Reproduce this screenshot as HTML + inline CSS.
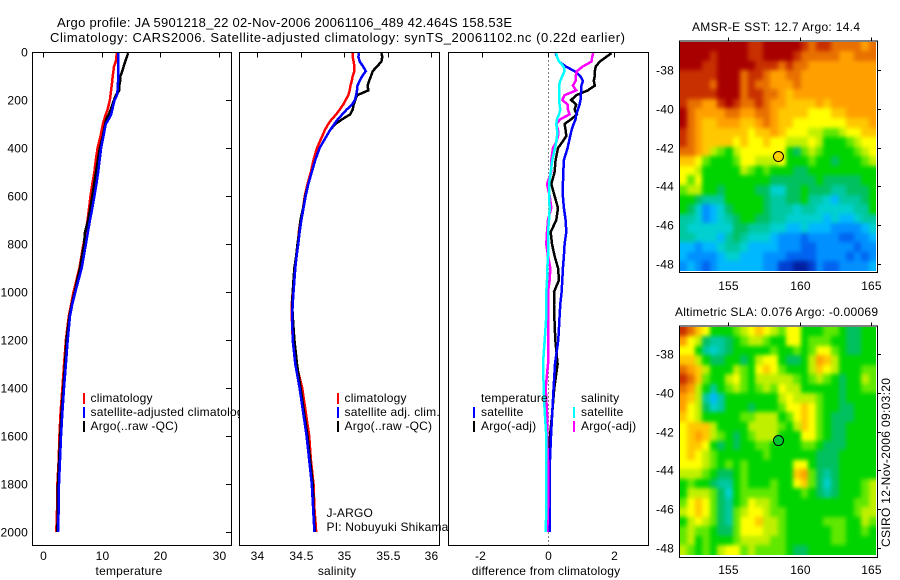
<!DOCTYPE html>
<html lang="en">
<head>
<meta charset="utf-8">
<title>Argo profile 5901218_22</title>
<style>
html,body{margin:0;padding:0;background:#fff;width:900px;height:580px;overflow:hidden}
svg{display:block}
text{font-family:"Liberation Sans",sans-serif;font-size:12px;fill:#000;letter-spacing:0.2px}
.crisp{shape-rendering:crispEdges}
</style>
</head>
<body>
<svg id="fig" xmlns="http://www.w3.org/2000/svg" width="900" height="580" viewBox="0 0 900 580">
<defs>
<filter id="map-smooth" filterUnits="userSpaceOnUse" x="650" y="0" width="250" height="580" color-interpolation-filters="sRGB">
<feGaussianBlur stdDeviation="2.2"/>
</filter>
<clipPath id="sst-map-clip"><rect x="680" y="42" width="196" height="229"/></clipPath>
<clipPath id="sla-map-clip"><rect x="680" y="327" width="196" height="228"/></clipPath>
</defs>
<rect x="0" y="0" width="900" height="580" fill="#fff"/>
<text x="57" y="27" textLength="455" style="font-size:13px;letter-spacing:0">Argo profile: JA 5901218_22 02-Nov-2006 20061106_489 42.464S 158.53E</text>
<text x="50" y="42" textLength="575" style="font-size:13px;letter-spacing:0">Climatology: CARS2006. Satellite-adjusted climatology: synTS_20061102.nc (0.22d earlier)</text>
<g id="panels"></g>
<text x="692" y="31" textLength="168" style="letter-spacing:0">AMSR-E SST: 12.7 Argo: 14.4</text>
<text x="675" y="316" textLength="203" style="letter-spacing:0">Altimetric SLA: 0.076 Argo: -0.00069</text>
<g id="maps"></g>
<text transform="translate(890,547) rotate(-90)" textLength="169" style="letter-spacing:0">CSIRO 12-Nov-2006 09:03:20</text>
</svg>
<script>
const depthLevels=[5,20,40,60,80,100,120,140,160,180,200,220,240,260,280,300,325,350,375,400,450,500,550,600,650,700,750,800,850,900,950,1000,1050,1100,1200,1300,1400,1500,1600,1700,1800,1900,2000];
const tempClim=[12.55,12.5,12.4,12.1,12.0,11.87,11.8,11.7,11.6,11.5,11.4,11.2,11.0,10.7,10.45,10.2,10.0,9.8,9.55,9.3,9.0,8.75,8.4,8.1,7.85,7.6,7.25,6.9,6.55,6.2,5.7,5.2,4.8,4.4,3.9,3.6,3.3,3.0,2.8,2.67,2.45,2.4,2.27];
const tempSat=[12.8,12.8,12.8,12.8,12.8,12.8,12.8,12.75,12.7,12.6,12.2,12.0,11.8,11.6,11.2,10.7,10.5,10.3,10.1,9.9,9.65,9.4,9.1,8.75,8.4,8.0,7.65,7.3,6.95,6.6,6.05,5.5,5.0,4.6,4.2,3.9,3.58,3.3,3.07,2.9,2.73,2.67,2.55];
const tempArgo=[14.5,14.3,14.0,13.75,13.5,13.2,13.15,13.0,13.0,12.4,12.1,11.8,11.55,11.2,10.8,10.6,10.4,10.2,9.95,9.7,9.35,9.03,8.7,8.4,8.05,7.7,7.15,7.0,6.65,6.3,5.85,5.4,4.9,4.5,4.0,3.75,3.45,3.15,2.95,2.75,2.55,2.5,2.45];
const salClim=[35.10,35.10,35.11,35.12,35.12,35.10,35.09,35.075,35.065,35.05,35.02,34.99,34.95,34.91,34.86,34.82,34.78,34.75,34.72,34.69,34.65,34.62,34.58,34.55,34.53,34.50,34.48,34.47,34.45,34.43,34.42,34.41,34.40,34.40,34.41,34.45,34.52,34.56,34.60,34.62,34.65,34.66,34.68];
const salSat=[35.17,35.165,35.18,35.22,35.25,35.21,35.18,35.155,35.15,35.14,35.125,35.09,35.03,34.98,34.93,34.89,34.84,34.80,34.76,34.72,34.67,34.63,34.59,34.56,34.535,34.51,34.49,34.475,34.455,34.44,34.43,34.42,34.41,34.405,34.41,34.44,34.49,34.53,34.57,34.60,34.63,34.645,34.66];
const salArgo=[35.43,35.44,35.43,35.38,35.33,35.31,35.29,35.27,35.28,35.15,35.13,35.11,35.10,35.07,34.98,34.90,34.84,34.80,34.76,34.72,34.67,34.63,34.59,34.555,34.53,34.50,34.485,34.465,34.45,34.43,34.42,34.41,34.405,34.41,34.43,34.46,34.5,34.54,34.58,34.61,34.64,34.65,34.665];
const diffTempSat=[0.23,0.27,0.33,0.53,0.80,0.97,1.05,1.01,1.0,0.99,0.98,0.95,0.90,0.85,0.83,0.77,0.71,0.67,0.63,0.59,0.48,0.46,0.45,0.45,0.48,0.53,0.55,0.50,0.48,0.45,0.43,0.41,0.37,0.35,0.31,0.21,0.17,0.13,0.09,0.06,0.05,0.05,0.05];
const diffTempArgo=[1.91,1.76,1.56,1.44,1.41,1.41,1.38,1.41,1.20,0.85,0.70,0.85,0.80,0.87,0.70,0.50,0.53,0.55,0.43,0.30,0.23,0.20,0.10,0.20,0.30,0.25,0.08,0.12,0.20,0.30,0.33,0.18,0.18,0.19,0.22,0.29,0.19,0.13,0.06,0.02,0.02,0,0.03];
const diffSalSat=[0.25,0.27,0.33,0.47,0.50,0.43,0.37,0.33,0.33,0.33,0.33,0.35,0.37,0.33,0.27,0.25,0.27,0.27,0.25,0.21,0.13,0.08,0.03,0.03,0.05,0.03,0,0,0,-0.02,-0.03,-0.05,-0.05,-0.05,-0.10,-0.15,-0.13,-0.10,-0.05,-0.05,-0.05,-0.05,-0.07];
const diffSalArgo=[1.36,1.33,1.31,1.05,0.87,0.83,0.83,0.75,0.85,0.50,0.43,0.60,0.60,0.65,0.37,0.25,0.30,0.30,0.25,0.15,0.10,0.10,-0.03,0.05,0.10,0,-0.03,-0.05,0,0.07,0.05,0,0,0,0,0,-0.07,-0.03,-0.03,0,0,0,-0.02];
const depthTicks=[0,200,400,600,800,1000,1200,1400,1600,1800,2000];
const tempTicks=[0,10,20,30];
const salTicks=[34,34.5,35,35.5,36];
const diffTicks=[-2,0,2];
const lonTicks=[155,160,165];
const latTicks=[-38,-40,-42,-44,-46,-48];
const sstRows=[
[16,16,16,16,16,16,16,16,16,15,15,16,16,16,16,16,15,14,15,15,14,14,14,14,13,14],
[16,16,16,16,15,16,16,16,16,15,15,16,16,16,16,15,14,14,14,14,14,13,13,14,14,14],
[16,16,16,15,15,16,16,16,16,16,15,15,15,14,15,14,14,13,13,13,13,13,13,13,13,13],
[15,15,15,15,15,16,16,16,14,15,15,14,13,13,14,14,13,13,13,13,13,13,13,13,13,13],
[15,15,15,15,14,16,16,16,14,15,14,14,13,13,13,14,13,13,13,13,13,13,13,13,13,13],
[15,15,15,15,15,16,16,16,14,15,15,14,14,13,12,13,13,13,13,13,13,13,13,13,13,13],
[15,14,14,13,13,15,16,15,14,14,15,14,13,13,12,12,12,12,13,12,13,13,13,13,13,13],
[16,14,13,13,13,13,14,14,13,13,14,14,13,12,12,12,12,11,11,11,12,12,13,13,13,13],
[16,14,13,12,12,13,13,13,12,12,13,14,13,12,12,11,11,11,11,11,11,11,12,12,12,13],
[15,14,13,12,12,12,12,12,12,11,12,12,13,12,11,11,11,10,10,9,9,10,11,11,12,12],
[15,14,13,12,12,12,12,11,12,11,11,12,11,11,10,10,10,11,10,8,8,8,9,10,11,11],
[14,14,13,12,10,9,8,10,11,11,11,11,11,11,8,7,9,10,9,8,8,8,8,9,10,11],
[12,12,11,9,8,8,8,9,11,11,10,10,10,11,8,8,8,9,8,8,7,8,8,8,9,10],
[11,11,10,8,8,8,8,8,10,9,8,9,8,8,8,7,7,8,8,8,8,8,8,8,8,8],
[11,9,11,8,8,8,8,8,8,8,8,8,7,7,7,7,7,7,8,7,7,7,7,7,8,8],
[9,10,10,8,8,7,8,8,8,8,7,7,5,5,7,7,8,7,7,7,6,6,7,7,7,8],
[8,8,7,6,6,6,8,8,8,8,8,7,6,6,7,7,8,6,6,5,4,6,6,6,7,8],
[8,7,5,3,4,5,7,8,8,8,8,7,6,6,6,5,6,6,5,5,5,5,5,6,6,8],
[6,6,5,3,4,5,6,7,8,8,7,7,6,6,5,5,5,5,5,4,5,4,4,5,6,6],
[6,5,5,5,5,5,5,7,7,6,6,6,5,5,4,4,5,4,4,4,3,3,3,3,4,5],
[6,6,5,5,5,4,6,7,6,5,5,5,4,3,3,3,2,3,3,3,3,2,2,3,3,4],
[4,4,3,4,4,5,6,6,5,4,4,4,4,3,3,3,2,2,3,3,3,3,3,2,3,3],
[4,3,3,3,3,4,5,5,4,4,4,3,3,3,2,2,2,2,3,3,3,3,2,3,2,3],
[3,4,3,2,3,4,4,4,4,4,4,3,3,1,1,0,0,1,3,2,2,3,3,3,3,4]];
const slaRows=[
[15,14,12,11,8,8,8,9,10,11,12,11,10,9,11,11,8,8,8,9,9,8,7,7,8,8],
[13,11,10,7,6,6,7,8,9,10,10,9,8,8,11,11,8,9,9,9,8,8,7,7,8,8],
[11,11,8,6,5,6,7,8,8,8,8,8,9,8,8,9,8,9,11,11,9,8,7,7,8,8],
[12,12,10,8,7,7,8,8,7,8,10,11,11,8,7,7,8,10,13,12,10,8,8,8,8,8],
[14,13,12,10,8,8,8,10,9,8,11,12,11,9,8,8,8,10,12,11,10,8,8,8,9,9],
[15,14,12,9,8,8,10,11,9,8,10,10,10,10,10,9,8,9,10,9,8,7,8,8,10,9],
[14,13,10,8,6,8,9,10,9,8,9,10,9,11,10,10,8,8,8,8,8,7,8,8,9,9],
[13,12,10,6,4,6,8,8,8,8,8,8,8,10,11,10,10,10,9,8,8,7,8,8,8,8],
[13,11,10,7,5,6,8,8,8,7,8,8,8,9,11,11,12,11,9,8,8,7,7,8,8,8],
[12,11,10,8,8,8,8,8,9,9,10,10,10,8,9,11,12,11,9,8,7,7,7,8,8,8],
[11,12,12,12,10,8,8,8,8,10,10,10,10,9,8,10,12,11,9,8,7,7,8,8,8,8],
[11,12,13,12,10,9,8,7,8,9,10,10,10,8,8,8,11,11,9,8,7,7,8,8,8,8],
[11,12,12,11,8,7,8,7,8,8,9,9,8,8,8,8,9,9,8,7,7,7,8,8,8,8],
[11,12,11,10,9,8,8,8,8,8,8,9,8,8,8,8,8,8,7,7,7,8,8,8,8,8],
[11,11,11,10,9,8,9,8,9,8,8,8,8,8,8,11,11,8,7,7,7,8,8,8,8,8],
[10,10,10,9,8,7,7,8,9,8,8,8,8,8,8,12,13,9,7,6,7,8,8,8,8,8],
[8,9,8,8,7,6,6,8,9,8,8,8,9,8,8,11,12,9,7,5,7,8,8,8,9,10],
[8,10,10,10,9,7,5,8,9,9,9,9,9,8,8,8,9,8,7,6,7,8,8,8,9,10],
[9,11,12,11,9,7,6,8,9,11,10,10,9,8,8,8,8,8,8,8,8,8,8,9,9,10],
[10,11,12,11,9,7,6,9,10,11,11,10,9,9,8,8,8,8,8,8,8,8,8,9,10,10],
[8,10,11,10,9,7,6,9,11,11,12,10,10,9,8,8,8,8,8,9,9,9,8,8,10,9],
[9,10,9,9,8,7,7,9,11,11,11,10,10,9,8,8,8,8,8,8,9,9,8,8,9,8],
[9,10,8,9,8,8,8,9,10,10,10,10,9,9,8,8,8,8,8,8,9,9,8,8,8,8],
[10,9,8,9,8,10,11,11,9,10,9,9,9,9,8,7,7,8,8,8,8,8,8,8,8,8]];
const levelColors=['#0020a0','#0040d0','#0064f0','#0090ff','#00b8ff','#00d0d0','#00c8a0','#00c060','#00d400','#60e800','#c0f000','#ffff00','#ffc800','#ffa000','#e87000','#c83000','#a80000'];
const floatLon=158.53;
const floatLat=-42.46;

const NS='http://www.w3.org/2000/svg';
const panelsG=document.getElementById('panels');
const mapsG=document.getElementById('maps');
function mk(tag,parent){const e=document.createElementNS(NS,tag);parent.appendChild(e);return e;}
function depthY(d){return 52+0.24*d;}
function tempX(v){return 43+5.87*v;}
function salX(v){return 257+87*(v-34);}
function diffX(v){return 548+33.2*v;}
function lonX(v){return 728+14.3*(v-155);}

function drawLine(g,xf,values,color,name){
  const p=mk('polyline',g);
  
  
  p.setAttribute('class','crisp');
  p.setAttribute('fill','none');
  p.setAttribute('stroke',color);
  p.setAttribute('stroke-width','2.5');
  p.setAttribute('points',values.map((v,i)=>xf(v).toFixed(1)+','+depthY(depthLevels[i]).toFixed(1)).join(' '));
}
function drawLabel(g,x,y,str,anchor,name){
  const t=mk('text',g);
  
  
  t.setAttribute('x',x);
  t.setAttribute('y',y);
  t.setAttribute('text-anchor',anchor);
  t.textContent=str;
  return t;
}
function drawSeg(g,x1,y1,x2,y2,name){
  const l=mk('line',g);
  
  
  l.setAttribute('class','crisp');
  l.setAttribute('x1',x1);l.setAttribute('y1',y1);l.setAttribute('x2',x2);l.setAttribute('y2',y2);
  l.setAttribute('stroke','#000');
  l.setAttribute('stroke-width','1');
}
function drawMarker(g,x,y,color,name){
  const r=mk('rect',g);
  
  
  r.setAttribute('class','crisp');
  r.setAttribute('x',x);r.setAttribute('y',y-5);r.setAttribute('width',2);r.setAttribute('height',11);
  r.setAttribute('fill',color);
}
function drawBox(g,x0,y0,x1,y1,fill,name){
  const r=mk('rect',g);
  
  
  r.setAttribute('class','crisp');
  r.setAttribute('x',x0);r.setAttribute('y',y0);r.setAttribute('width',x1-x0);r.setAttribute('height',y1-y0);
  r.setAttribute('fill',fill);
  r.setAttribute('stroke',fill==='none'?'#000':'none');
  r.setAttribute('stroke-width','1');
}
function startPanel(name,x0,x1,ticks,xf,title,titleX){
  const g=mk('g',panelsG);
  
  
  drawBox(g,x0,52.5,x1,545.5,'#fff',name+'-background');
  ticks.forEach(t=>{
    const x=Math.round(xf(t))+0.5;
    drawSeg(g,x,52.5,x,57.5,name+'-x-tick');
    drawLabel(g,x-(t<0?2:0),560,String(t),'middle',name+'-x-tick-label');
  });
  drawLabel(g,titleX,575,title,'middle',name+'-x-axis-title');
  return g;
}

/* temperature panel */
const p1=startPanel('temperature-panel',32.5,231.5,tempTicks,tempX,'temperature',129);
depthTicks.forEach(d=>{
  const y=Math.round(depthY(d))+0.5;
  drawSeg(p1,226,y,231.5,y,'depth-tick');
  drawLabel(p1,28,y+4,String(d),'end','depth-tick-label');
});
drawLine(p1,tempX,tempClim,'#ff0000','temperature-climatology-line');
drawLine(p1,tempX,tempArgo,'#000','temperature-argo-line');
drawLine(p1,tempX,tempSat,'#0000ff','temperature-satellite-line');
drawMarker(p1,83,398,'#ff0000','legend-marker-climatology');
drawLabel(p1,90.5,402,'climatology','start','legend-label-climatology');
drawMarker(p1,83,412,'#0000ff','legend-marker-satellite-adjusted');
drawLabel(p1,90.5,416,'satellite-adjusted climatology','start','legend-label-satellite-adjusted');
drawMarker(p1,83,426,'#000','legend-marker-argo');
drawLabel(p1,90.5,430,'Argo(..raw -QC)','start','legend-label-argo');
drawBox(p1,32.5,52.5,231.5,545.5,'none','temperature-panel-frame');

/* salinity panel */
const p2=startPanel('salinity-panel',239.5,439.5,salTicks,salX,'salinity',337);
drawLine(p2,salX,salClim,'#ff0000','salinity-climatology-line');
drawLine(p2,salX,salArgo,'#000','salinity-argo-line');
drawLine(p2,salX,salSat,'#0000ff','salinity-satellite-line');
drawMarker(p2,337,398,'#ff0000','salinity-legend-marker-climatology');
drawLabel(p2,344.5,402,'climatology','start','salinity-legend-label-climatology');
drawMarker(p2,337,412,'#0000ff','salinity-legend-marker-satellite');
drawLabel(p2,344.5,416,'satellite adj. clim.','start','salinity-legend-label-satellite');
drawMarker(p2,337,426,'#000','salinity-legend-marker-argo');
drawLabel(p2,344.5,430,'Argo(..raw -QC)','start','salinity-legend-label-argo');
drawBox(p2,239.5,52.5,439.5,545.5,'none','salinity-panel-frame');
drawLabel(p2,326.5,517,'J-ARGO','start','program-label');
drawLabel(p2,326.5,531,'PI: Nobuyuki Shikama','start','pi-label');

/* difference panel */
const p3=startPanel('difference-panel',448.5,648.5,diffTicks,diffX,'difference from climatology',546);
const zero=mk('line',p3);


zero.setAttribute('class','crisp');
zero.setAttribute('x1',diffX(0)+0.5);zero.setAttribute('x2',diffX(0)+0.5);
zero.setAttribute('y1',52.5);zero.setAttribute('y2',545);
zero.setAttribute('stroke','#000');zero.setAttribute('stroke-width','1');
zero.setAttribute('stroke-dasharray','1 3');
drawLine(p3,diffX,diffTempArgo,'#000','diff-temperature-argo-line');
drawLine(p3,diffX,diffTempSat,'#0000ff','diff-temperature-satellite-line');
drawLine(p3,diffX,diffSalArgo,'#ff00ff','diff-salinity-argo-line');
drawLine(p3,diffX,diffSalSat,'#00ffff','diff-salinity-satellite-line');
drawLabel(p3,481,402,'temperature','start','diff-legend-heading-temperature');
drawMarker(p3,473,412,'#0000ff','diff-legend-marker-temp-satellite');
drawLabel(p3,481,416,'satellite','start','diff-legend-label-temp-satellite');
drawMarker(p3,473,426,'#000','diff-legend-marker-temp-argo');
drawLabel(p3,481,430,'Argo(-adj)','start','diff-legend-label-temp-argo');
drawLabel(p3,581,402,'salinity','start','diff-legend-heading-salinity');
drawMarker(p3,573,412,'#00ffff','diff-legend-marker-sal-satellite');
drawLabel(p3,581,416,'satellite','start','diff-legend-label-sal-satellite');
drawMarker(p3,573,426,'#ff00ff','diff-legend-marker-sal-argo');
drawLabel(p3,581,430,'Argo(-adj)','start','diff-legend-label-sal-argo');
drawBox(p3,448.5,52.5,648.5,545.5,'none','difference-panel-frame');

/* maps */
function drawMap(name,rows,lat38Y,top,gridBottom,bottom,labelY,dotColor){
  const g=mk('g',mapsG);
  
  
  const latY=v=>lat38Y+19.4*(-38-v);
  const x0=679.5,x1=876.5;
  const rowH=(gridBottom-top)/rows.length;
  const clip=mk('g',g);
  clip.setAttribute('clip-path','url(#'+name+'-clip)');
  const cells=mk('g',clip);
  cells.setAttribute('filter','url(#map-smooth)');
  rows.forEach((row,r)=>{
    const colW=(x1-x0)/row.length;
    row.forEach((v,c)=>{
      const cell=mk('rect',cells);
      
      
      cell.setAttribute('class','crisp');
      /* outer cells bleed past the clip so smoothing does not fade at the edge */
      const cx=c===0?x0-12:Math.round(x0+c*colW);
      const cy=r===0?top-12:Math.round(top+r*rowH);
      const ex=c===row.length-1?x1+12:Math.round(x0+(c+1)*colW);
      const ey=r===rows.length-1?gridBottom+12:Math.round(top+(r+1)*rowH);
      cell.setAttribute('x',cx);
      cell.setAttribute('y',cy);
      cell.setAttribute('width',ex-cx);
      cell.setAttribute('height',ey-cy);
      cell.setAttribute('fill',levelColors[v]);
    });
  });
  drawBox(g,679.5,top-0.5,877.5,bottom,'none',name+'-frame');
  lonTicks.forEach(t=>{
    const x=Math.round(lonX(t))+0.5;
    drawSeg(g,x,top-4,x,top,name+'-lon-tick');
    drawLabel(g,x,labelY,String(t),'middle',name+'-lon-label');
  });
  latTicks.forEach(t=>{
    const y=Math.round(latY(t))+0.5;
    drawSeg(g,877.5,y,881,y,name+'-lat-tick');
    drawLabel(g,674,y+4,String(t),'end',name+'-lat-label');
  });
  const dot=mk('circle',g);
  
  
  dot.setAttribute('cx',lonX(floatLon));
  dot.setAttribute('cy',latY(floatLat));
  dot.setAttribute('r','5');
  dot.setAttribute('fill',dotColor);
  dot.setAttribute('stroke','#000');
  dot.setAttribute('stroke-width','1');
}
drawMap('sst-map',sstRows,70,41.5,271,272.5,290,'#ffd000');
drawMap('sla-map',slaRows,354,326.5,555,557.5,574,'#00c830');
</script>
</body>
</html>
